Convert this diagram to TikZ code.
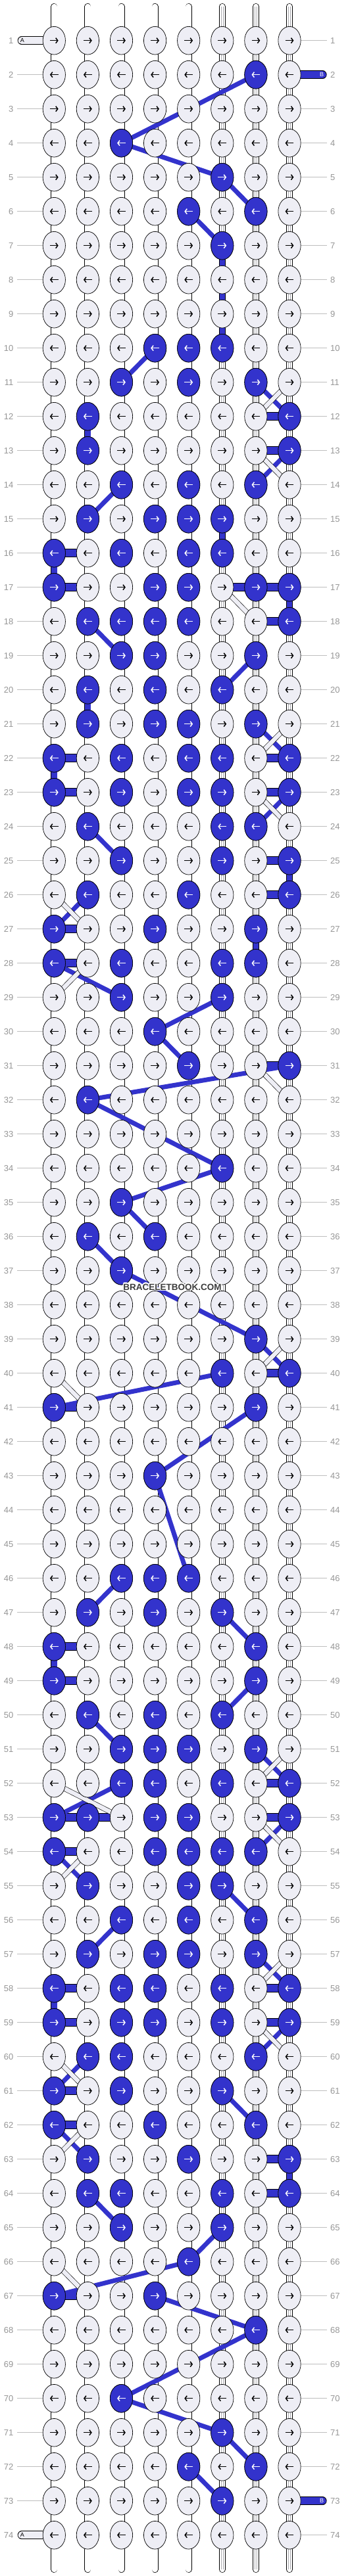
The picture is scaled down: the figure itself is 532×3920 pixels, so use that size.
\documentclass[tikz,border=0pt]{standalone}
\usepackage{fontspec}
\setmainfont{Liberation Sans}
\usepackage{contour}
\contourlength{1.2pt}
\usetikzlibrary{shapes.geometric,arrows.meta}
\definecolor{knotfill}{RGB}{238,238,245}
\definecolor{knotblue}{RGB}{51,51,204}
\definecolor{numgray}{RGB}{150,150,150}
\definecolor{linegray}{RGB}{190,190,190}
\definecolor{markgray}{RGB}{60,60,60}
\definecolor{innergray}{RGB}{170,170,175}

\begin{document}
\begin{tikzpicture}[x=1pt,y=-1pt,
  knot/.style={ellipse,draw,line width=0.7pt,fill=knotfill,minimum width=34.3pt,minimum height=42.7pt,inner sep=0pt},
  blueknot/.style={knot,fill=knotblue},
  vstring/.style={draw=black,line width=0.7pt,double=white,double distance=8.6pt,line cap=round},
  vinner/.style={draw=innergray,line width=0.4pt,double=white,double distance=2.6pt},
  vblue/.style={draw=black,line width=0.7pt,double=knotblue,double distance=8.6pt},
  hlink/.style={draw=black,line width=0.8pt,double=knotfill,double distance=11pt},
  hblue/.style={hlink,double=knotblue},
  bstrand/.style={draw=knotblue,line width=7pt},
  astrand/.style={draw=black,line width=0.6pt,double=knotfill,double distance=6.5pt},
  arr/.style={line width=1.5pt,-{Straight Barb[length=3pt,width=8pt]}},
  rownum/.style={text=numgray,font=\fontsize{13}{13}\selectfont,inner sep=0pt},
  rowline/.style={draw=linegray,line width=0.8pt}]
\useasboundingbox (0,0) rectangle (532,3920);
\def\colx#1{82.3+51.1*(#1-1)}
\def\rowy#1{61.7+52*(#1-1)}

% grid points
\foreach \r in {1,...,74}
  \foreach \c in {1,...,8}
    \coordinate (p-\r-\c) at ({\colx{\c}},{\rowy{\r}});
\foreach \c in {1,...,8}{
  \coordinate (top-\c) at ({\colx{\c}},10);
  \coordinate (bot-\c) at ({\colx{\c}},3910);
}

% vertical strings
\foreach \c in {1,...,8}{
  \draw[vstring] (top-\c) -- (bot-\c);
  \draw[vinner] (top-\c) -- (bot-\c);
}

% horizontal links
\foreach \r in {1,...,74}
  \foreach \c [evaluate=\c as \n using int(\c+1)] in {1,...,7}
    \draw[hlink] (p-\r-\c) -- (p-\r-\n);

% string ends
\coordinate (aend-1) at (33,{\rowy{1}});
\coordinate (aend-74) at (33,{\rowy{74}});
\coordinate (bend-2) at (490.3,{\rowy{2}});
\coordinate (bend-73) at (490.3,{\rowy{73}});
\draw[hlink,line cap=round] (aend-1) -- (p-1-1);
\draw[hlink,line cap=round] (aend-74) -- (p-74-1);
\draw[hblue,line cap=round] (p-2-8) -- (bend-2);
\draw[hblue,line cap=round] (p-73-8) -- (bend-73);
\node[font=\fontsize{9}{9}\selectfont] (la-1) at (34,{\rowy{1}}) {A};
\node[font=\fontsize{9}{9}\selectfont] (la-74) at (34,{\rowy{74}}) {A};
\node[font=\fontsize{9}{9}\selectfont,text=white] (lb-2) at (489,{\rowy{2}}) {B};
\node[font=\fontsize{9}{9}\selectfont,text=white] (lb-73) at (489,{\rowy{73}}) {B};

% blue links between rows
\foreach \r/\c [evaluate=\r as \n using int(\r+1)] in {7/6,8/6,9/6,12/2,15/6,16/1,17/8,20/2,22/1,25/8,27/7,48/1,58/1,63/8}
  \draw[vblue] (p-\r-\c) -- (p-\n-\c);

% blue links in a row
\foreach \r/\c [evaluate=\c as \n using int(\c+1)] in {12/7,13/7,16/1,17/1,17/6,17/7,18/7,22/1,22/7,23/1,23/7,25/7,26/7,27/1,28/1,31/7,40/7,41/1,48/1,49/1,
  52/7,53/1,53/2,53/7,54/1,58/1,58/7,59/1,59/7,61/1,62/1,63/7,64/7,67/1}
  \draw[hblue] (p-\r-\c) -- (p-\r-\n);

% blue string B
\foreach \ra/\ca/\rb/\cb in {2/7/4/3,4/3/5/6,5/6/6/7,6/5/7/6,10/4/11/3,11/7/12/8,13/8/14/7,
  14/3/15/2,18/2/19/3,19/7/20/6,21/7/22/8,23/8/24/7,24/2/25/3,26/2/27/1,28/1/29/3,29/6/30/4,
  30/4/31/5,31/8/32/2,32/2/34/6,34/6/35/3,35/3/36/4,36/2/37/3,37/3/39/7,39/7/40/8,40/6/41/1,
  41/7/43/4,43/4/46/5,46/3/47/2,47/6/48/7,49/7/50/6,50/2/51/3,51/7/52/8,52/3/53/1,53/8/54/7,
  54/1/55/2,55/6/56/7,56/3/57/2,57/7/58/8,59/8/60/7,60/2/61/1,61/6/62/7,62/1/63/2,64/2/65/3,
  65/6/66/5,66/5/67/1,67/4/68/7,68/7/70/3,70/3/71/6,71/6/72/7,72/5/73/6}
  \draw[bstrand] (p-\ra-\ca) -- (p-\rb-\cb);

% string A crossings
\foreach \ra/\ca/\rb/\cb in {11/8/12/7,13/7/14/8,17/6/18/7,21/8/22/7,23/7/24/8,26/1/27/2,
  28/2/29/1,31/7/32/8,39/8/40/7,40/1/41/2,51/8/52/7,52/1/53/3,53/7/54/8,54/2/55/1,
  57/8/58/7,59/7/60/8,60/1/61/2,62/2/63/1,66/1/67/2}
  \draw[astrand] (p-\ra-\ca) -- (p-\rb-\cb);

% row numbers
\foreach \r in {1,...,74}{
  \node[rownum,anchor=east] (ln-\r) at (20.5,{\rowy{\r}}) {\r};
  \node[rownum,anchor=west] (rn-\r) at (502,{\rowy{\r}}) {\r};
}
\foreach \r in {2,...,73}
  \draw[rowline] ([xshift=5.5pt]ln-\r.east) -- (p-\r-1);
\foreach \r in {1,3,...,71}
  \draw[rowline] (p-\r-8) -- ([xshift=-5pt]rn-\r.west);
\foreach \r in {4,6,...,72,74}
  \draw[rowline] (p-\r-8) -- ([xshift=-5pt]rn-\r.west);

% knots
\foreach \r in {1,...,74}{
  \ifodd\r\relax \def\xa{-6.4}\def\xb{6.4}\else \def\xa{6.4}\def\xb{-6.4}\fi
  \foreach \c in {1,...,8}{
    \node[knot] (k-\r-\c) at (p-\r-\c) {};
    \draw[arr] ([xshift=\xa pt]k-\r-\c.center) -- ([xshift=\xb pt]k-\r-\c.center);
  }
}
\foreach \r/\c in {2/7,4/3,5/6,6/5,6/7,7/6,
  10/4,10/5,10/6,11/3,11/5,11/7,12/2,12/8,13/2,13/8,14/3,14/5,14/7,
  15/2,15/4,15/5,15/6,16/1,16/3,16/5,16/6,17/1,17/4,17/5,17/7,17/8,
  18/2,18/3,18/4,18/5,18/8,19/3,19/4,19/7,20/2,20/4,20/6,21/2,21/4,21/5,21/7,
  22/1,22/3,22/5,22/6,22/8,23/1,23/3,23/5,23/6,23/8,24/2,24/6,24/7,
  25/3,25/6,25/8,26/2,26/5,26/8,27/1,27/4,27/7,28/1,28/3,28/6,28/7,29/3,29/6,
  30/4,31/5,31/8,32/2,34/6,35/3,36/2,36/4,37/3,39/7,40/6,40/8,41/1,41/7,43/4,
  46/3,46/4,46/5,47/2,47/4,47/6,48/1,48/7,49/1,49/7,50/2,50/4,50/6,
  51/3,51/4,51/5,51/7,52/3,52/4,52/6,52/8,53/1,53/2,53/4,53/5,53/8,
  54/1,54/4,54/5,54/6,54/7,55/2,55/5,55/6,56/3,56/5,56/7,57/2,57/4,57/5,57/7,
  58/1,58/3,58/4,58/6,58/8,59/1,59/3,59/4,59/6,59/8,60/2,60/3,60/7,
  61/1,61/3,61/6,62/1,62/4,62/7,63/2,63/5,63/8,64/2,64/3,64/6,64/8,65/3,65/6,
  66/5,67/1,67/4,68/7,70/3,71/6,72/5,72/7,73/6}{
  \ifodd\r\relax \def\xa{-6.4}\def\xb{6.4}\else \def\xa{6.4}\def\xb{-6.4}\fi
  \node[blueknot] (k-\r-\c) at (p-\r-\c) {};
  \draw[arr,white] ([xshift=\xa pt]k-\r-\c.center) -- ([xshift=\xb pt]k-\r-\c.center);
}

% watermark
\node[font=\bfseries\fontsize{13.5}{13.5}\selectfont,text=markgray,inner sep=0pt] (mark) at (262,1959) {\contour{white}{BRACELETBOOK.COM}};
\end{tikzpicture}
\end{document}
